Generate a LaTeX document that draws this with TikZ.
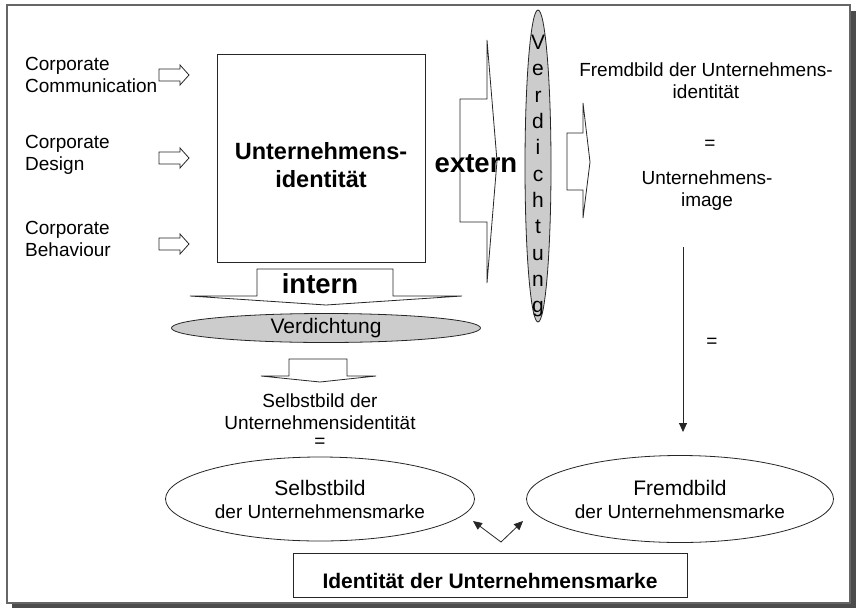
\documentclass[tikz,border=0pt]{standalone}
\usepackage{fontspec}
\setmainfont{Liberation Sans}
\usetikzlibrary{positioning,shapes.geometric,arrows.meta}

\tikzstyle{outline} = [draw=black!85, line width=0.9pt, inner sep=0pt]
\tikzstyle{blockarrow} = [draw=black!85, line width=0.8pt, fill=white, line join=miter]
\tikzstyle{txt} = [inner sep=0pt, align=center, font=\fontsize{19}{22}\selectfont]
\tikzstyle{corp} = [txt, align=left, anchor=north west]
\tikzstyle{bigtxt} = [inner sep=0pt, align=center, font=\bfseries\fontsize{23.5}{28}\selectfont]
\tikzstyle{flow} = [inner sep=0pt, anchor=base, font=\bfseries\fontsize{27.5}{30}\selectfont]
\tikzstyle{verd} = [ellipse, draw=black!85, line width=0.8pt, fill=black!20, inner sep=0pt]
\tikzstyle{bild} = [ellipse, draw=black!85, line width=0.8pt, inner sep=0pt, minimum width=309pt, minimum height=84pt, align=center, font=\fontsize{19}{23}\selectfont]
\tikzstyle{edge} = [draw=black!85, line width=0.8pt, -{Triangle[length=9pt,width=8pt]}]

\begin{document}
\begin{tikzpicture}[x=1pt, y=-1pt]
  \useasboundingbox (0,0) rectangle (856,608);
  % frame with shadow
  \fill[black!70] (12,11) rectangle (856,608);
  \draw[black!60, line width=1.2pt, fill=white] (7,5) rectangle (850,603);

  % inputs
  \node[corp] (comm)   at (25,57)  {Corporate\\Communication};
  \node[corp] (design) at (25,135) {Corporate\\Design};
  \node[corp] (behav)  at (25,221) {Corporate\\Behaviour};
  \foreach \y in {75,158,244}
    \draw[blockarrow, shift={(0,\y)}] (159,-6) -- (180,-6) -- (180,-10) -- (189,0) -- (180,10) -- (180,6) -- (159,6) -- cycle;

  \node[outline, minimum width=208pt, minimum height=208pt] (ident) at (321,158) {};
  \node[bigtxt] (identtxt) at (321,165) {Unternehmens-\\identität};

  % intern
  \draw[blockarrow] (257,269) -- (393,269) -- (393,296) -- (462,296) -- (326,305) -- (190,296) -- (257,296) -- cycle;
  \node[flow] (intern) at (320,293) {intern};
  \node[verd, minimum width=309pt, minimum height=29pt, font=\fontsize{21}{24}\selectfont] (verdh) at (326,328) {Verdichtung};
  \draw[blockarrow] (289,359) -- (347,359) -- (347,376) -- (376,376) -- (320,382) -- (261,376) -- (289,376) -- cycle;
  \node[txt, anchor=north] (selbsttxt) at (320,394) {Selbstbild der\\Unternehmensidentität};
  \node[txt] (eq1) [below=8pt of selbsttxt] {=};
  \node[bild] (selbst) at (320,499) {{\fontsize{21}{23}\selectfont Selbstbild}\\der Unternehmensmarke};

  % extern
  \draw[blockarrow] (460,99) -- (487,99) -- (487,40) -- (497,161) -- (487,283) -- (487,222) -- (460,222) -- cycle;
  \node[flow] (extern) at (476,172) {extern};
  \node[verd, minimum width=26pt, minimum height=312pt] (verdv) at (538,166) {};
  \node[anchor=north, inner sep=0pt, align=center, font=\fontsize{21}{26.3}\selectfont] (verdvtxt) at (538,35) {V\\e\\r\\d\\i\\c\\h\\t\\u\\n\\g};
  \draw[blockarrow] (567,133) -- (583,133) -- (583,103) -- (590,162) -- (583,218) -- (583,190) -- (567,190) -- cycle;
  \node[txt, anchor=north] (fremdid) at (706,63) {Fremdbild der Unternehmens-\\identität};
  \node[txt] (eq2) at (710,145) {=};
  \node[txt, anchor=north] (image) at (707,171) {Unternehmens-\\image};
  \coordinate (imgend) at (683,247);
  \coordinate (fremdtop) at (683,432);
  \path[edge] (imgend) -- (fremdtop);
  \node[txt] (eq3) at (712,343) {=};
  \node[bild, minimum width=307pt, minimum height=87pt] (fremd) at (680,499) {{\fontsize{21}{23}\selectfont Fremdbild}\\der Unternehmensmarke};

  % brand identity
  \node[outline, minimum width=394pt, minimum height=44pt, text height=26pt, text depth=0pt, font=\bfseries\fontsize{21}{24}\selectfont] (marke) at (490,575) {Identität der Unternehmensmarke};
  \coordinate (apex) at (501,542);
  \coordinate (selbsttip) at (473,521);
  \coordinate (fremdtip) at (523,521);
  \path[edge] (apex) -- (selbsttip);
  \path[edge] (apex) -- (fremdtip);
\end{tikzpicture}
\end{document}
